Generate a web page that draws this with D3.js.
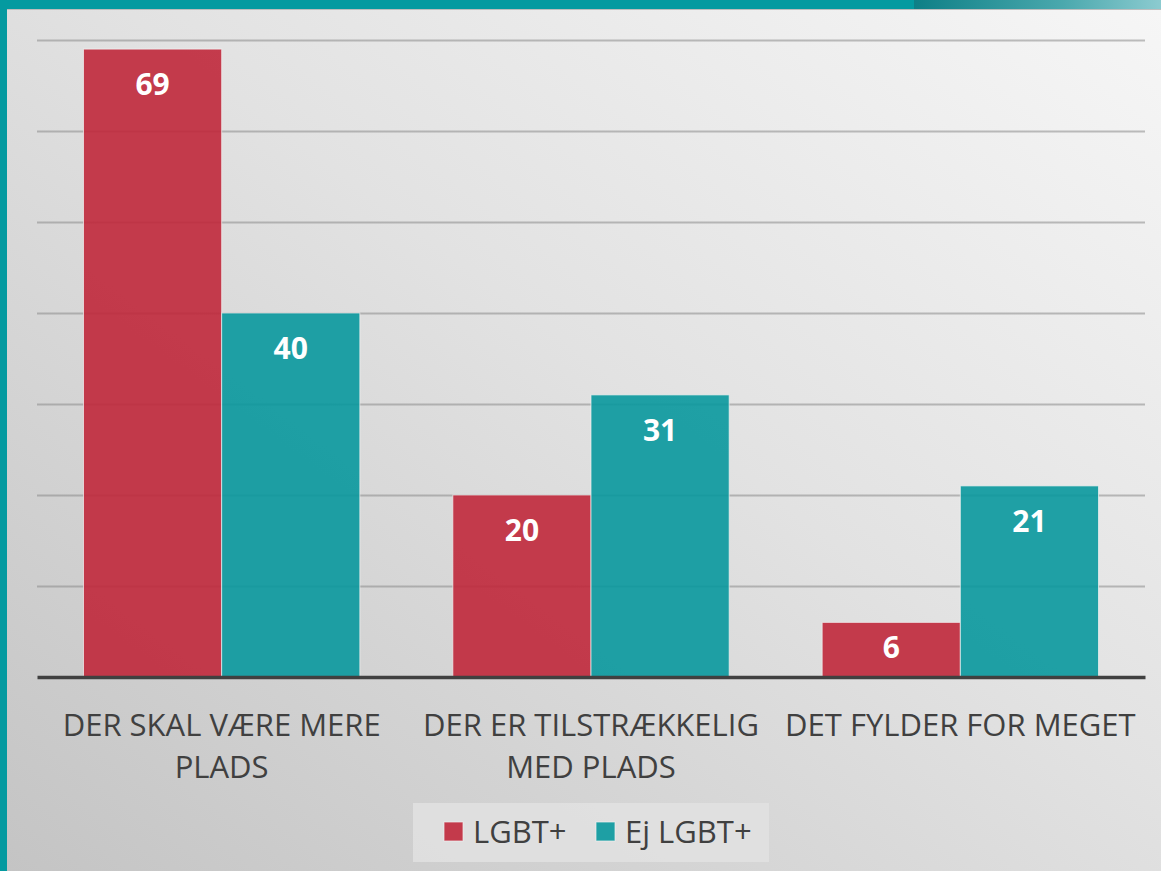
<!DOCTYPE html>
<html>
<head>
<meta charset="utf-8">
<script src="https://cdn.jsdelivr.net/npm/d3@7"></script>
<style>
  html, body { margin: 0; padding: 0; background: #0a9aa0; }
  #plot { width: 1161px; height: 871px; }
  text { font-family: "Open Sans", "Noto Sans", sans-serif; }
</style>
</head>
<body>
<div id="plot"></div>
<script>
// Grouped bar chart (LGBT+ vs Ej LGBT+)

var svgWidth = 1161;
var svgHeight = 871;

var margin = {
  top: 40,
  right: 16,
  bottom: 194,
  left: 37
};

var width = svgWidth - margin.left - margin.right;
var height = svgHeight - margin.top - margin.bottom;

var categories = [
  { name: "DER SKAL VÆRE MERE PLADS", lines: ["DER SKAL VÆRE MERE", "PLADS"], lgbt: 69, ej: 40 },
  { name: "DER ER TILSTRÆKKELIG MED PLADS", lines: ["DER ER TILSTRÆKKELIG", "MED PLADS"], lgbt: 20, ej: 31 },
  { name: "DET FYLDER FOR MEGET", lines: ["DET FYLDER FOR MEGET"], lgbt: 6, ej: 21 }
];

var series = [
  { key: "lgbt", label: "LGBT+", color: "#c0283b" },
  { key: "ej", label: "Ej LGBT+", color: "#09989d" }
];

var svg = d3.select("#plot")
  .append("svg")
  .attr("width", svgWidth)
  .attr("height", svgHeight);

// background frame + gradient
var defs = svg.append("defs");
var grad = defs.append("linearGradient")
  .attr("id", "bg")
  .attr("x1", "100%").attr("y1", "0%")
  .attr("x2", "0%").attr("y2", "100%");
grad.append("stop").attr("offset", "0%").attr("stop-color", "#f6f6f6");
grad.append("stop").attr("offset", "45%").attr("stop-color", "#e2e2e2");
grad.append("stop").attr("offset", "100%").attr("stop-color", "#c4c4c4");

var strip = defs.append("linearGradient").attr("id", "strip");
strip.append("stop").attr("offset", "0%").attr("stop-color", "#0e7f86");
strip.append("stop").attr("offset", "60%").attr("stop-color", "#4aa8ad");
strip.append("stop").attr("offset", "100%").attr("stop-color", "#8ccbd0");

svg.append("rect")
  .attr("width", svgWidth).attr("height", svgHeight)
  .attr("fill", "#049aa0");
svg.append("rect")
  .attr("x", 914).attr("y", 0)
  .attr("width", svgWidth - 914).attr("height", 9)
  .attr("fill", "url(#strip)");
svg.append("rect")
  .attr("x", 7).attr("y", 9)
  .attr("width", svgWidth - 7).attr("height", svgHeight - 9)
  .attr("fill", "url(#bg)");
svg.append("line")
  .attr("x1", 7).attr("x2", svgWidth)
  .attr("y1", 9.5).attr("y2", 9.5)
  .attr("stroke", "#bdbdbd").attr("stroke-width", 1);

var chartGroup = svg.append("g")
  .attr("transform", `translate(${margin.left}, ${margin.top})`);

// scales
var x0 = d3.scaleBand()
  .domain(categories.map(d => d.name))
  .range([0, width]);

var x1 = d3.scaleBand()
  .domain(series.map(s => s.key))
  .range([46.5, x0.bandwidth() - 46.5]);

var yLinearScale = d3.scaleLinear()
  .domain([0, 70])
  .range([height, 0]);

// gridlines
var leftAxis = d3.axisLeft(yLinearScale)
  .tickValues(d3.range(10, 71, 10))
  .tickSize(-width)
  .tickFormat("");

var grid = chartGroup.append("g").call(leftAxis);
grid.select(".domain").remove();
grid.selectAll(".tick line")
  .attr("stroke", "#8a8a8a")
  .attr("stroke-opacity", 0.55)
  .attr("stroke-width", 2);

// bars
var groups = chartGroup.selectAll(".cat")
  .data(categories)
  .enter()
  .append("g")
  .attr("class", "cat")
  .attr("transform", d => `translate(${x0(d.name)}, 0)`);

groups.selectAll("rect")
  .data(d => series.map(s => ({ key: s.key, color: s.color, value: d[s.key] })))
  .enter()
  .append("rect")
  .attr("x", d => x1(d.key))
  .attr("y", d => yLinearScale(d.value))
  .attr("width", x1.bandwidth())
  .attr("height", d => height - yLinearScale(d.value))
  .attr("fill", d => d.color)
  .attr("fill-opacity", 0.9)
  .attr("stroke", "#f2f2f2")
  .attr("stroke-opacity", 0.7)
  .attr("stroke-width", 1);

// value labels, inside end (kept inside short bars)
groups.selectAll(".val")
  .data(d => series.map(s => ({ key: s.key, value: d[s.key] })))
  .enter()
  .append("text")
  .attr("class", "val")
  .attr("x", d => x1(d.key) + x1.bandwidth() / 2)
  .attr("y", d => Math.min(yLinearScale(d.value) + 46, height - 19))
  .attr("text-anchor", "middle")
  .attr("fill", "#ffffff")
  .attr("font-size", "30px")
  .attr("font-weight", "bold")
  .text(d => d.value);

// baseline
var bottomAxis = d3.axisBottom(x0).tickSize(0).tickFormat("");
var xAxis = chartGroup.append("g")
  .attr("transform", `translate(0, ${height})`)
  .call(bottomAxis);
xAxis.select(".domain")
  .attr("stroke", "#404040")
  .attr("stroke-width", 3.5);

// category labels
groups.append("text")
  .attr("text-anchor", "middle")
  .attr("fill", "#404040")
  .attr("font-size", "31px")
  .selectAll("tspan")
  .data(d => d.lines)
  .enter()
  .append("tspan")
  .attr("x", x0.bandwidth() / 2)
  .attr("y", (d, i) => height + 59 + i * 42)
  .text(d => d);

// legend
var legend = svg.append("g")
  .attr("transform", "translate(413, 803)");

legend.append("rect")
  .attr("width", 356)
  .attr("height", 59)
  .attr("fill", "#e2e2e2")
  .attr("fill-opacity", 0.8);

var legendX = [31, 183];
var items = legend.selectAll(".item")
  .data(series)
  .enter()
  .append("g")
  .attr("class", "item")
  .attr("transform", (d, i) => `translate(${legendX[i]}, 0)`);

items.append("rect")
  .attr("y", 19)
  .attr("width", 19)
  .attr("height", 19)
  .attr("fill", d => d.color)
  .attr("fill-opacity", 0.9)
  .attr("stroke", "#f2f2f2")
  .attr("stroke-opacity", 0.7);

items.append("text")
  .attr("x", 29)
  .attr("y", 40)
  .attr("fill", "#404040")
  .attr("font-size", "31px")
  .text(d => d.label);
</script>
</body>
</html>
